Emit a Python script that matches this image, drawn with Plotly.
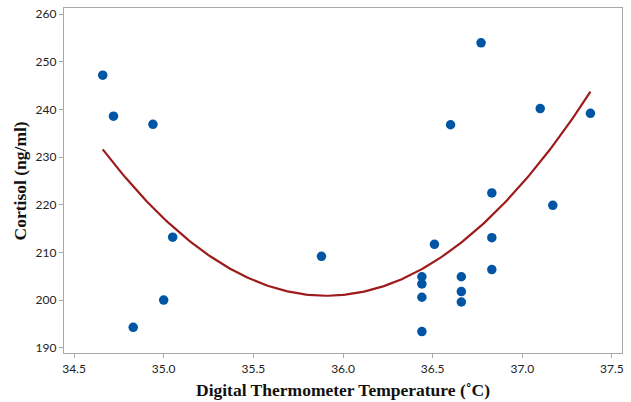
import numpy as np
import plotly.graph_objects as go

# Temperature (°C) and cortisol (ng/ml) observations
temperature = [34.66, 34.72, 34.94, 35.05, 35.00, 34.83, 35.88, 36.51,
               36.44, 36.44, 36.44, 36.44, 36.66, 36.66, 36.66,
               36.83, 36.83, 36.83, 37.17, 36.77, 36.60, 37.10, 37.38]
cortisol = [247.2, 238.6, 236.9, 213.2, 200.0, 194.3, 209.2, 211.7,
            204.9, 203.4, 200.6, 193.4, 204.9, 201.8, 199.6,
            222.5, 213.1, 206.4, 219.9, 254.0, 236.8, 240.2, 239.2]

x_ticks = [34.5, 35.0, 35.5, 36.0, 36.5, 37.0, 37.5]
y_ticks = [190, 200, 210, 220, 230, 240, 250, 260]

x_title = "Digital Thermometer Temperature (˚C)"
y_title = "Cortisol (ng/ml)"

# Quadratic regression of cortisol on temperature
coef = np.polyfit(temperature, cortisol, 2)
xs = np.linspace(min(temperature), max(temperature), 200)
ys = np.polyval(coef, xs)

fig = go.Figure()
fig.add_trace(go.Scatter(x=xs, y=ys, mode="lines",
                         line=dict(color="#9E1B1B", width=2.2),
                         showlegend=False, hoverinfo="skip"))
fig.add_trace(go.Scatter(x=temperature, y=cortisol, mode="markers",
                         marker=dict(color="#0055A5", size=9.5),
                         showlegend=False))

axis_common = dict(
    showline=True, linecolor="#A8A8A8", linewidth=1.3, mirror=True,
    ticks="outside", ticklen=4, tickcolor="#A8A8A8", tickwidth=1,
    showgrid=False, zeroline=False, automargin=False,
    tickfont=dict(family="Lato, Open Sans, sans-serif", size=12, color="#222222"),
)

title_font = dict(family="Liberation Serif, Times New Roman, serif",
                  size=17.5, color="#111111")

fig.update_layout(
    width=631, height=402,
    margin=dict(l=64, r=9, t=8, b=49),
    paper_bgcolor="white", plot_bgcolor="white",
    xaxis=dict(range=[34.444, 37.556], tickvals=x_ticks,
               ticktext=[f"{v:.1f}" for v in x_ticks], **axis_common),
    yaxis=dict(range=[188.9, 261.3], tickvals=y_ticks, **axis_common),
    annotations=[
        dict(text=f"<b>{x_title}</b>", xref="paper", yref="paper",
             x=0.5, y=-0.107, xanchor="center", yanchor="middle",
             showarrow=False, font=title_font),
        dict(text=f"<b>{y_title}</b>", xref="paper", yref="paper",
             x=-0.079, y=0.5, xanchor="center", yanchor="middle",
             textangle=-90, showarrow=False, font=title_font),
    ],
)

fig.write_html("out.html")
